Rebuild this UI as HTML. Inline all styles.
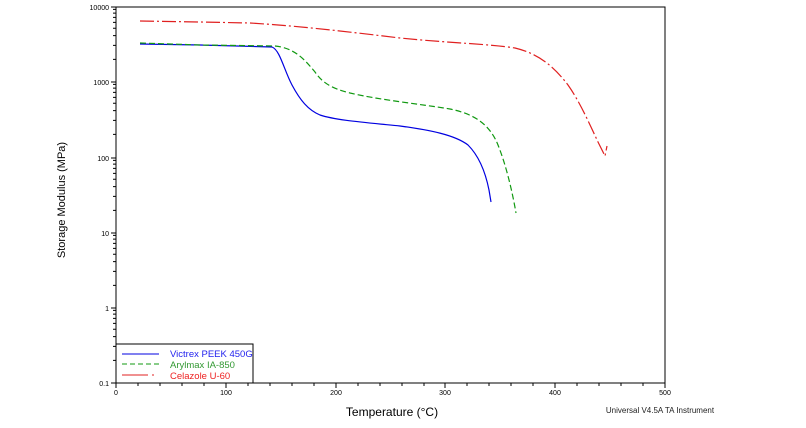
<!DOCTYPE html>
<html><head><meta charset="utf-8"><style>body{margin:0;background:#fff}svg{display:block;font-family:"Liberation Sans",sans-serif}</style></head><body>
<svg width="806" height="428" xmlns="http://www.w3.org/2000/svg">
<rect x="116" y="7" width="549" height="376" fill="none" stroke="#000" stroke-width="1"/>
<g stroke="#000" stroke-width="1">
<line x1="116" y1="7" x2="111" y2="7"/><line x1="116" y1="82" x2="111" y2="82"/><line x1="116" y1="158" x2="111" y2="158"/><line x1="116" y1="233" x2="111" y2="233"/><line x1="116" y1="308" x2="111" y2="308"/><line x1="116" y1="383" x2="111" y2="383"/>
<path d="M116 59.4h-3M116 45.4h-3M116 35.6h-3M116 28.3h-3M116 22.4h-3M116 17.4h-3M116 13.1h-3M116 9.4h-3
M116 134.4h-3M116 120.4h-3M116 110.6h-3M116 103.3h-3M116 97.4h-3M116 92.4h-3M116 88.1h-3M116 84.4h-3
M116 210.4h-3M116 196.4h-3M116 186.6h-3M116 179.3h-3M116 173.4h-3M116 168.4h-3M116 164.1h-3M116 160.4h-3
M116 285.4h-3M116 271.4h-3M116 261.6h-3M116 254.3h-3M116 248.4h-3M116 243.4h-3M116 239.1h-3M116 235.4h-3
M116 360.4h-3M116 346.4h-3M116 336.6h-3M116 329.3h-3M116 323.4h-3M116 318.4h-3M116 314.1h-3M116 310.4h-3"/>
<line x1="116" y1="383" x2="116" y2="388"/><line x1="226" y1="383" x2="226" y2="388"/><line x1="336" y1="383" x2="336" y2="388"/><line x1="445" y1="383" x2="445" y2="388"/><line x1="555" y1="383" x2="555" y2="388"/><line x1="665" y1="383" x2="665" y2="388"/>
<line x1="138" y1="383" x2="138" y2="386"/><line x1="160" y1="383" x2="160" y2="386"/><line x1="182" y1="383" x2="182" y2="386"/><line x1="204" y1="383" x2="204" y2="386"/>
<line x1="248" y1="383" x2="248" y2="386"/><line x1="270" y1="383" x2="270" y2="386"/><line x1="292" y1="383" x2="292" y2="386"/><line x1="314" y1="383" x2="314" y2="386"/>
<line x1="358" y1="383" x2="358" y2="386"/><line x1="380" y1="383" x2="380" y2="386"/><line x1="402" y1="383" x2="402" y2="386"/><line x1="424" y1="383" x2="424" y2="386"/>
<line x1="467" y1="383" x2="467" y2="386"/><line x1="489" y1="383" x2="489" y2="386"/><line x1="511" y1="383" x2="511" y2="386"/><line x1="533" y1="383" x2="533" y2="386"/>
<line x1="577" y1="383" x2="577" y2="386"/><line x1="599" y1="383" x2="599" y2="386"/><line x1="621" y1="383" x2="621" y2="386"/><line x1="643" y1="383" x2="643" y2="386"/>
</g>
<g font-size="7" fill="#000" text-anchor="end">
<text x="109" y="10">10000</text><text x="109" y="85">1000</text><text x="109" y="161">100</text><text x="109" y="236">10</text><text x="109" y="311">1</text><text x="109" y="386">0.1</text>
</g>
<g font-size="7" fill="#000" text-anchor="middle">
<text x="116" y="395">0</text><text x="226" y="395">100</text><text x="336" y="395">200</text><text x="445" y="395">300</text><text x="555" y="395">400</text><text x="665" y="395">500</text>
</g>
<text x="392" y="416" font-size="12" text-anchor="middle">Temperature (°C)</text>
<text x="65" y="200" font-size="11" text-anchor="middle" transform="rotate(-90 65 200)">Storage Modulus (MPa)</text>
<text x="660" y="413" font-size="8" text-anchor="middle" fill="#222">Universal V4.5A TA Instrument</text>
<path fill="none" stroke="#0000e0" stroke-width="1.2" d="M140,44 L200,45 L272,47 C280,50 284,70 292,85 C300,100 308,110 320,115 C335,120 360,122 400,126 C430,130 455,135 468,145 C480,157 486,175 489,190 L491,202"/>
<path fill="none" stroke="#119911" stroke-width="1.2" stroke-dasharray="6,3" d="M140,43 L200,45 L275,46 C295,48 305,60 315,72 C322,82 330,88 350,93 C380,100 420,104 450,109 C475,114 490,125 498,145 C506,165 512,190 516,213"/>
<path fill="none" stroke="#e02020" stroke-width="1.2" stroke-dasharray="14,3,2,3" d="M140,21 L200,22 L250,23 C300,26 350,32 400,38 C450,43 490,44 515,48 C540,54 555,68 568,85 C580,102 590,125 598,142 L605,156 L607,146"/>
<rect x="116" y="344" width="137" height="39" fill="#fff" stroke="#000"/>
<line x1="122" y1="354" x2="159" y2="354" stroke="#0000e0"/>
<line x1="122" y1="364" x2="159" y2="364" stroke="#119911" stroke-dasharray="5,3"/>
<line x1="122" y1="375" x2="148" y2="375" stroke="#e02020"/><line x1="152" y1="375" x2="154" y2="375" stroke="#e02020"/>
<g font-size="9.5"><text x="170" y="357" fill="#2222ee">Victrex PEEK 450G</text><text x="170" y="368" fill="#339933">Arylmax IA-850</text><text x="170" y="379" fill="#ee2222">Celazole U-60</text></g>
</svg>
</body></html>
